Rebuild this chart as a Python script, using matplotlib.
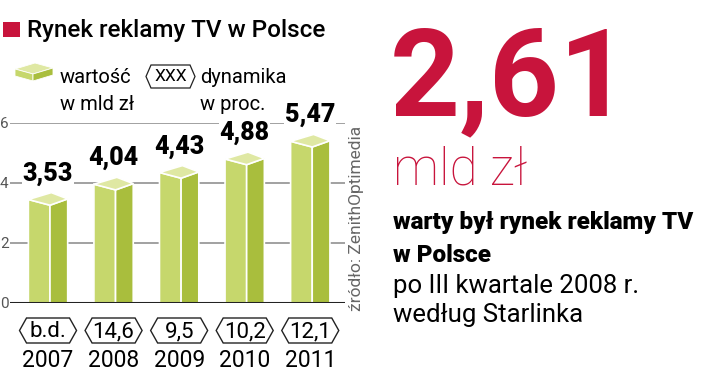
import matplotlib.pyplot as plt
import numpy as np
from matplotlib.patches import Polygon, Rectangle
from matplotlib.transforms import blended_transform_factory

plt.rcParams['font.family'] = ['Roboto', 'DejaVu Sans']

# data
years = ['2007', '2008', '2009', '2010', '2011']
values = [3.53, 4.04, 4.43, 4.88, 5.47]
value_labels = ['3,53', '4,04', '4,43', '4,88', '5,47']
growth = ['b.d.', '14,6', '9,5', '10,2', '12,1']
yticks = [0, 2, 4, 6]

RED = '#c8143c'
FRONT = '#c6d76c'
SIDE = '#a9be3d'
TOP = '#dfe8a3'

W, H = 720, 371
fig = plt.figure(figsize=(7.2, 3.71), dpi=100)


def fx(px):
    return px / W


def fy(py):
    return 1 - py / H


ax = fig.add_axes([fx(10), fy(303), fx(345) - fx(10), fy(123) - fy(303)])
ax.set_xlim(-0.58, 4.53)
ax.set_ylim(0, 6)
for s in ax.spines.values():
    s.set_visible(False)
ax.set_xticks([])
ax.set_yticks(yticks)
ax.tick_params(axis='y', length=0, pad=1, labelsize=11, labelcolor='#555555')

for t in yticks[1:]:
    ax.axhline(t, color='#9a9a9a', lw=1.3, zorder=0)
ax.axhline(0, color='#222222', lw=2.2, zorder=4)

# 3d bars
x = np.arange(len(values))
for xi, v, lab in zip(x, values, value_labels):
    left, front, right, back = xi - 0.3, xi + 0.03, xi + 0.3, xi + 0.05
    ax.add_patch(Polygon([(left, 0), (front, 0), (front, v - 0.27), (left, v - 0.08)],
                         closed=True, fc=FRONT, ec='white', lw=1.2, zorder=2, clip_on=False))
    ax.add_patch(Polygon([(front, 0), (right, 0), (right, v - 0.06), (front, v - 0.27)],
                         closed=True, fc=SIDE, ec='white', lw=1.2, zorder=2, clip_on=False))
    ax.add_patch(Polygon([(left, v - 0.08), (front, v - 0.27), (right, v - 0.06), (back, v + 0.15)],
                         closed=True, fc=TOP, ec='white', lw=1.2, zorder=2, clip_on=False))
    ax.annotate(lab, (xi, v), xytext=(0, 12), textcoords='offset points',
                ha='center', va='baseline', fontsize=18, fontweight='black',
                bbox=dict(fc='white', ec='none', pad=0.5), zorder=5, annotation_clip=False)

# growth hexagons and years
trans = blended_transform_factory(ax.transData, fig.transFigure)
top_y, bot_y, mid_y = fy(318), fy(343), fy(330.5)
for xi, g, yr in zip(x, growth, years):
    hw, tip = 0.435, 0.107
    hexa = [(xi - hw, mid_y), (xi - hw + tip, top_y), (xi + hw - tip, top_y),
            (xi + hw, mid_y), (xi + hw - tip, bot_y), (xi - hw + tip, bot_y)]
    ax.add_patch(Polygon(hexa, closed=True, fc='white', ec='#222222', lw=1,
                         transform=trans, clip_on=False))
    ax.text(xi, mid_y - 0.003, g, transform=trans, ha='center', va='center', fontsize=16)
    ax.text(xi, fy(367), yr, transform=trans, ha='center', va='baseline', fontsize=16.5)

fig.text(fx(357), fy(218), 'źródło: ZenithOptimedia', rotation=90, ha='center',
         va='center', fontsize=12.5, color='#666666')

# title
fig.add_artist(Rectangle((fx(3), fy(37)), 17 / W, 15 / H, transform=fig.transFigure,
                         fc=RED, ec='none'))
fig.text(fx(27), fy(37), 'Rynek reklamy TV w Polsce', fontsize=17.5,
         fontweight='medium', va='baseline')

# legend
icon = [
    ([(15, 69), (35, 63), (53, 68), (33, 74)], TOP),
    ([(15, 69), (33, 74), (33, 81), (15, 76)], FRONT),
    ([(33, 74), (53, 68), (53, 75), (33, 81)], SIDE),
]
for pts, c in icon:
    fig.add_artist(Polygon([(fx(a), fy(b)) for a, b in pts], closed=True, fc=c,
                           ec='white', lw=0.6, transform=fig.transFigure))
fig.text(fx(60), fy(83), 'wartość', fontsize=14.5, va='baseline')
fig.text(fx(60), fy(110), 'w mld zł', fontsize=14.5, va='baseline')
lx0, lx1, ly0, ly1 = 146, 195, 65, 88
lhex = [(lx0, 76.5), (lx0 + 5, ly0), (lx1 - 5, ly0), (lx1, 76.5), (lx1 - 5, ly1), (lx0 + 5, ly1)]
fig.add_artist(Polygon([(fx(a), fy(b)) for a, b in lhex], closed=True, fc='white',
                       ec='#222222', lw=0.9, transform=fig.transFigure))
fig.text(fx(170.5), fy(76.5), 'XXX', fontsize=12.5, ha='center', va='center')
fig.text(fx(200), fy(83), 'dynamika', fontsize=14.5, va='baseline')
fig.text(fx(200), fy(110), 'w proc.', fontsize=14.5, va='baseline')

# right text block
fig.text(fx(390), fy(115), '2,61', fontsize=88, color=RED, fontweight='bold',
         va='baseline')
fig.text(fx(393), fy(185), 'mld zł', fontsize=37, color=RED, fontweight='light',
         va='baseline')
fig.text(fx(393), fy(229), 'warty był rynek reklamy TV', fontsize=17.5,
         fontweight='black', va='baseline')
fig.text(fx(393), fy(262), 'w Polsce', fontsize=17.5, fontweight='black', va='baseline')
fig.text(fx(393), fy(293), 'po III kwartale 2008 r.', fontsize=18.5, va='baseline')
fig.text(fx(393), fy(322), 'według Starlinka', fontsize=18.5, va='baseline')

fig.savefig('out.png', dpi=100)
